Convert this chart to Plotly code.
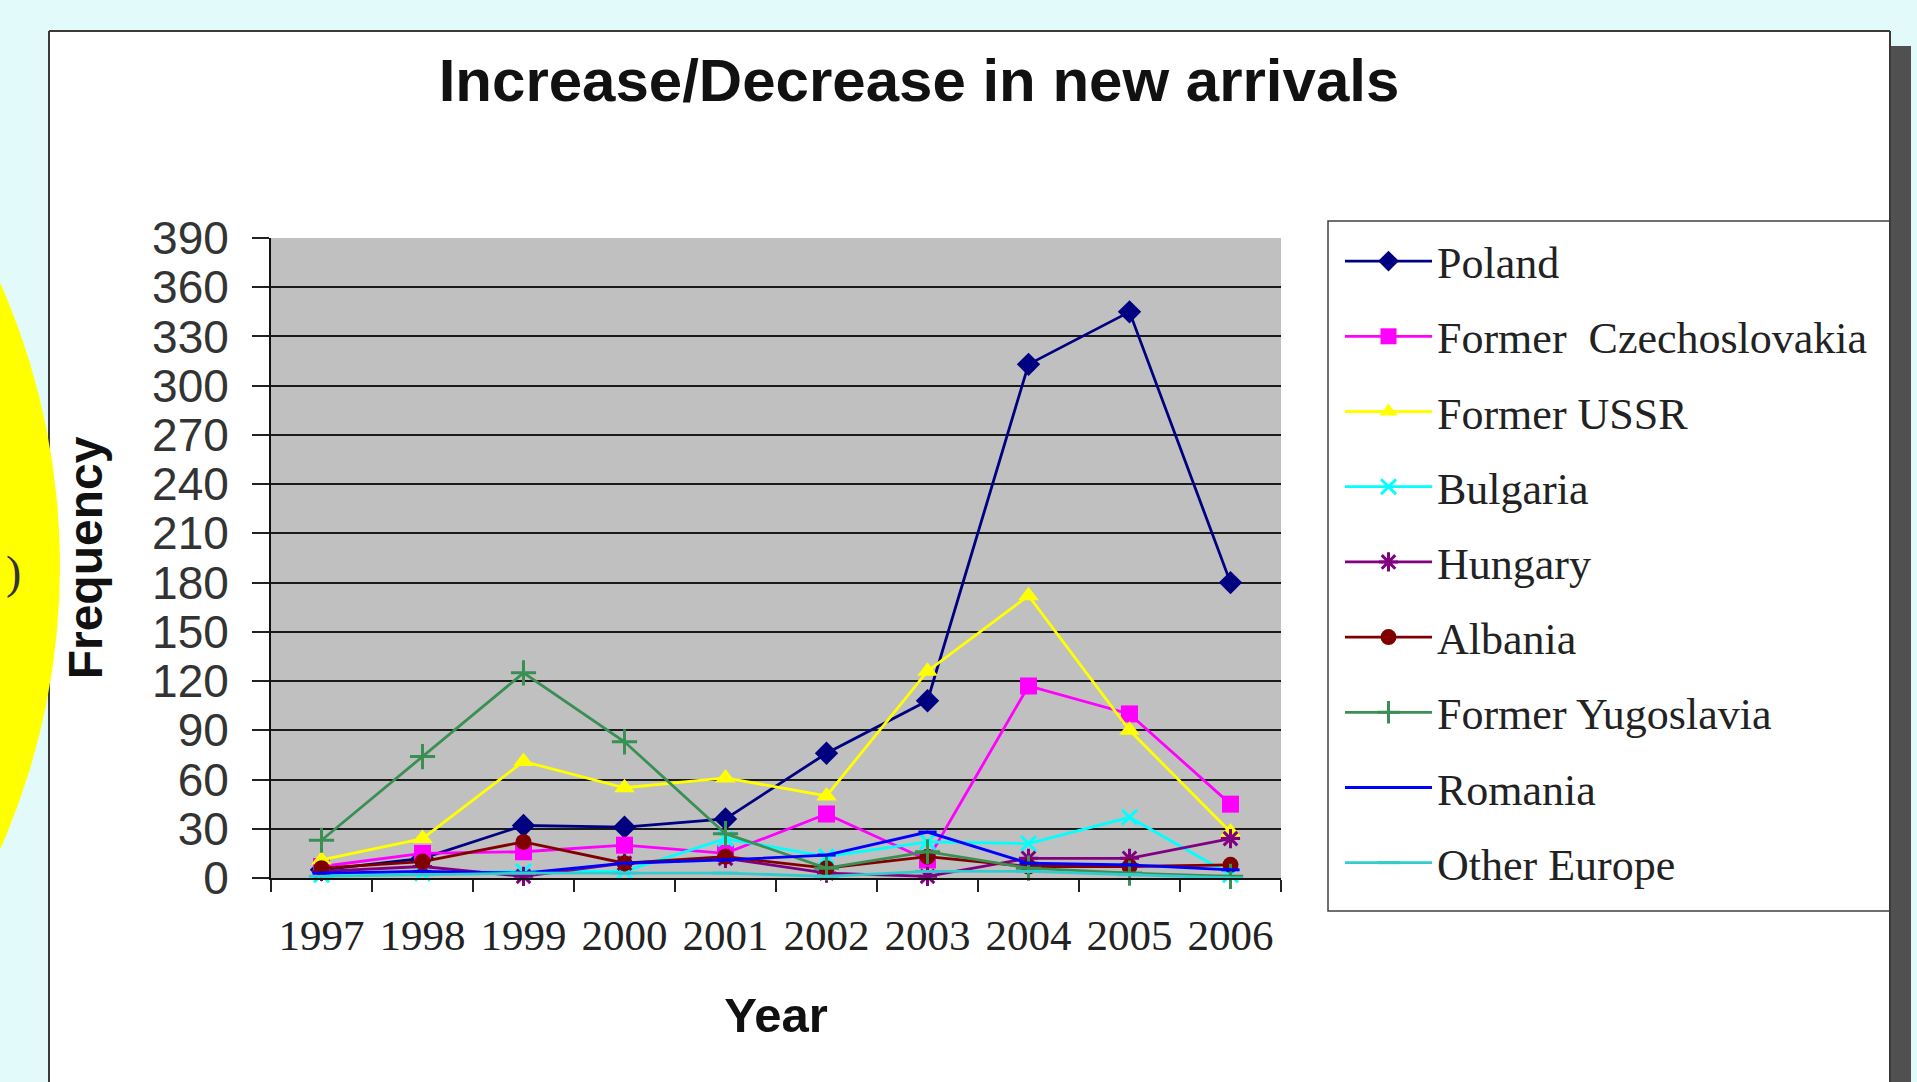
import plotly.graph_objects as go

# ---------------- data ----------------
years = ["1997", "1998", "1999", "2000", "2001", "2002", "2003", "2004", "2005", "2006"]

poland = [5, 12, 32, 31, 36, 76, 108, 313, 345, 180]
czech = [7, 15, 16, 20, 15, 39, 11, 117, 100, 45]
ussr = [11, 24, 71, 55, 61, 50, 126, 172, 90, 28]
bulgaria = [2, 3, 4, 4, 24, 13, 22, 21, 37, 2]
hungary = [4, 7, 1, 9, 12, 3, 1, 12, 12, 24]
albania = [6, 10, 22, 9, 13, 6, 13, 7, 7, 8]
yugoslavia = [23, 74, 125, 83, 27, 6, 16, 6, 3, 1]
romania = [3, 4, 3, 9, 11, 14, 28, 9, 8, 5]
other_europe = [1, 2, 3, 3, 3, 1, 4, 4, 2, 0]

series_names = ["Poland", "Former  Czechoslovakia", "Former USSR", "Bulgaria", "Hungary",
                "Albania", "Former Yugoslavia", "Romania", "Other Europe"]
series_values = [poland, czech, ussr, bulgaria, hungary, albania, yugoslavia, romania, other_europe]

y_ticks = list(range(0, 391, 30))

# ---------------- styles ----------------
styles = [
    dict(color="#000080", symbol="diamond", size=18, open=False),
    dict(color="#FF00FF", symbol="square", size=17, open=False),
    dict(color="#FFFF00", symbol="triangle-up", size=18, open=False),
    dict(color="#00FFFF", symbol="x-thin-open", size=15, open=True),
    dict(color="#800080", symbol="asterisk-open", size=16, open=True),
    dict(color="#800000", symbol="circle", size=16, open=False),
    dict(color="#3A8F55", symbol="cross-thin-open", size=18, open=True),
    dict(color="#0000FF", symbol="line-ew-open", size=13, open=True),
    dict(color="#33CCCC", symbol="line-ew-open", size=18, open=True),
]

W, H = 1917, 1082
ML, MR, MT, MB = 271, W - 1281, 238, H - 878
PW, PH = W - ML - MR, H - MT - MB


def px_x(p):
    return (p - ML) / PW


def px_y(p):
    return (H - MB - p) / PH


fig = go.Figure()
for i, (name, vals, st) in enumerate(zip(series_names, series_values, styles)):
    marker = dict(symbol=st["symbol"], size=st["size"], color=st["color"])
    if st["open"]:
        marker["line"] = dict(color=st["color"], width=3)
    else:
        marker["line"] = dict(color=st["color"], width=0)
    fig.add_trace(go.Scatter(
        x=years, y=vals, name=name, mode="lines+markers",
        line=dict(color=st["color"], width=2.8),
        marker=marker, cliponaxis=False, legendgroup=f"g{i}",
    ))

# ---------------- decoration (background, frame, circle) ----------------
bg = "#E2FAFA"
FT = 31  # frame top
FL, FR = 49, 1890
shapes = []
shapes.append(dict(type="rect", xref="paper", yref="paper", x0=px_x(0), x1=px_x(W), y0=px_y(0), y1=px_y(FT),
                   fillcolor=bg, line=dict(width=0), layer="below"))
shapes.append(dict(type="rect", xref="paper", yref="paper", x0=px_x(0), x1=px_x(FL), y0=px_y(0), y1=px_y(H),
                   fillcolor=bg, line=dict(width=0), layer="below"))
shapes.append(dict(type="rect", xref="paper", yref="paper", x0=px_x(FR), x1=px_x(W), y0=px_y(0), y1=px_y(H),
                   fillcolor=bg, line=dict(width=0), layer="below"))
# shadow on right
shapes.append(dict(type="rect", xref="paper", yref="paper", x0=px_x(FR + 1), x1=px_x(FR + 21), y0=px_y(FT + 15),
                   y1=px_y(H + 5), fillcolor="#505050", line=dict(width=0), layer="below"))
# legend box
shapes.append(dict(type="rect", xref="paper", yref="paper", x0=px_x(1328), x1=px_x(FR), y0=px_y(221), y1=px_y(911),
                   fillcolor="white", line=dict(color="#404040", width=1.5), layer="below"))
# frame border
for (x0, y0, x1, y1) in [(FL, FT, FR, FT), (FL, FT, FL, H + 5), (FR, FT, FR, H + 5)]:
    shapes.append(dict(type="line", xref="paper", yref="paper", x0=px_x(x0), x1=px_x(x1), y0=px_y(y0), y1=px_y(y1),
                       line=dict(color="#3a3a3a", width=2), layer="below"))
# yellow circle on left
cx, cy, r = -640, 566, 700
shapes.append(dict(type="circle", xref="paper", yref="paper", x0=px_x(cx - r), x1=px_x(cx + r),
                   y0=px_y(cy + r), y1=px_y(cy - r), fillcolor="#FFFF00", line=dict(width=0), layer="below"))

annotations = [
    dict(text=")", xref="paper", yref="paper", x=px_x(4), y=px_y(572), xanchor="left", yanchor="middle",
         showarrow=False, font=dict(family="Liberation Serif, serif", size=46, color="#333333")),
]

fig.update_layout(
    width=W, height=H,
    margin=dict(l=ML, r=MR, t=MT, b=MB, pad=0),
    paper_bgcolor="white",
    plot_bgcolor="#C0C0C0",
    shapes=shapes,
    annotations=annotations,
    title=dict(text="<b>Increase/Decrease in new arrivals</b>", x=919 / W, xanchor="center",
               y=1 - 80 / H, yanchor="middle",
               font=dict(family="Liberation Sans, Arial, sans-serif", size=60, color="#111111")),
    showlegend=True,
    legend=dict(
        x=px_x(1340), y=px_y(226), xanchor="left", yanchor="top",
        bgcolor="rgba(0,0,0,0)", borderwidth=0, maxheight=1000,
        font=dict(family="Liberation Serif, Times New Roman, serif", size=44, color="#222222"),
        tracegroupgap=15, itemwidth=87, traceorder="grouped",
    ),
    xaxis=dict(
        type="category", range=[-0.5, 9.5], tickson="boundaries", ticks="outside", ticklen=12, tickwidth=2,
        tickcolor="#222222",
        showline=True, linecolor="#111111", linewidth=2, showgrid=False, zeroline=False,
        tickfont=dict(family="Liberation Serif, Times New Roman, serif", size=43, color="#222222"),
        ticklabelstandoff=18,
        title=dict(text="<b>Year</b>", standoff=40,
                   font=dict(family="Liberation Sans, Arial, sans-serif", size=49, color="#111111")),
    ),
    yaxis=dict(
        range=[0, 390], tickvals=y_ticks, ticks="outside", ticklen=17, tickwidth=2, tickcolor="#222222",
        showline=True, linecolor="#111111", linewidth=2,
        showgrid=True, gridcolor="#1a1a1a", gridwidth=2, zeroline=False,
        tickfont=dict(family="Liberation Sans, Arial, sans-serif", size=46, color="#333333"),
        ticklabelstandoff=14,
        title=dict(text="<b>Frequency</b>", standoff=34,
                   font=dict(family="Liberation Sans, Arial, sans-serif", size=48, color="#111111")),
    ),
)

fig.write_html("out.html")
